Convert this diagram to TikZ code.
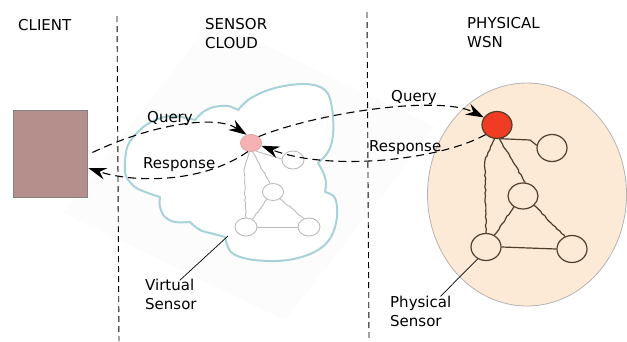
\documentclass[tikz,border=0pt]{standalone}
\usepackage{fontspec}
\setmainfont{DejaVu Sans}
\usetikzlibrary{arrows.meta,decorations.pathmorphing,shapes.geometric}

\definecolor{boxfill}{RGB}{180,143,140}
\definecolor{boxline}{RGB}{130,130,130}
\definecolor{cloudline}{RGB}{168,210,217}
\definecolor{wsnfill}{RGB}{253,234,214}
\definecolor{wsnline}{RGB}{180,180,180}
\definecolor{wire}{RGB}{77,62,42}
\definecolor{hotnode}{RGB}{240,60,36}
\definecolor{ghost}{RGB}{188,188,188}
\definecolor{ghostpink}{RGB}{246,178,178}
\definecolor{haze}{RGB}{252,252,252}

\begin{document}
\begin{tikzpicture}[x=1pt,y=-1pt,
  lbl/.style={font=\fontsize{15}{19}\selectfont, inner sep=0pt, anchor=base west},
  divider/.style={line width=0.9pt, dash pattern=on 6pt off 4pt},
  msg/.style={line width=1.1pt, dash pattern=on 8pt off 5pt,
    -{Stealth[length=18pt,width=12pt,inset=6pt]}},
  wig/.style={decorate, decoration={random steps, segment length=3pt, amplitude=0.6pt}},
  pnode/.style={ellipse, draw=wire, line width=1.2pt, fill=wsnfill,
    minimum width=30pt, minimum height=27pt, inner sep=0pt},
  pedge/.style={draw=wire, line width=1.2pt},
  gnode/.style={ellipse, draw=ghost, line width=0.9pt, fill=white,
    minimum width=22pt, minimum height=18pt, inner sep=0pt},
  gedge/.style={draw=ghost, line width=0.9pt},
  leader/.style={line width=0.7pt}]
\pgfmathsetseed{11}
\useasboundingbox (0,0) rectangle (627,341);
\fill[white] (0,0) rectangle (627,341);

% faint tilted panel behind the cloud
\fill[haze] (63,213) -- (213,20) -- (435,127) -- (285,320) -- cycle;

% sensor cloud outline, built lobe by lobe
\draw[cloudline, line width=2pt, fill=white, line join=round]
  plot[smooth, tension=0.6] coordinates {(160,197) (148,193) (135,187) (126,176) (125,162) (128,145) (138,132) (151,122) (171,116) (195,120)}
  -- plot[smooth, tension=0.6] coordinates {(195,120) (203,112) (214,107) (228,106) (238,110)}
  -- plot[smooth, tension=0.6] coordinates {(238,110) (251,98) (275,88) (305,84) (325,90) (332,108) (333,135) (328,152) (318,163)}
  -- plot[smooth, tension=0.6] coordinates {(318,163) (323,172) (326,182) (325,192)}
  -- plot[smooth, tension=0.6] coordinates {(325,192) (335,198) (337,217) (331,237) (318,250) (298,258) (275,261) (248,259) (231,252) (225,237)}
  -- plot[smooth, tension=0.6] coordinates {(225,237) (214,234) (200,230) (190,222)}
  -- plot[smooth, tension=0.6] coordinates {(190,222) (175,222) (165,217) (160,207) (160,197)}
  -- cycle;

% physical network area
\fill[wsnfill, draw=wsnline, line width=0.8pt] (527,194.5) ellipse [x radius=99.5, y radius=111.5];

% column dividers
\coordinate (d1t) at (117,16);  \coordinate (d1b) at (119,341);
\coordinate (d2t) at (367,12);  \coordinate (d2b) at (369,341);
\draw[divider] (d1t) -- (d1b);
\draw[divider] (d2t) -- (d2b);

% column headings
\node[lbl] (hc)  at (18,30)  {CLIENT};
\node[lbl] (hs1) at (205,29) {SENSOR};
\node[lbl] (hs2) at (205,48) {CLOUD};
\node[lbl] (hp1) at (467,28) {PHYSICAL};
\node[lbl] (hp2) at (467,47) {WSN};

% client
\node[draw=boxline, line width=0.8pt, fill=boxfill, minimum width=74pt, minimum height=87pt,
  inner sep=0pt] (client) at (50,153.5) {};

% virtual sensor network inside the cloud
\node[gnode, fill=ghostpink, draw=ghostpink!80!gray, minimum width=21pt, minimum height=17pt] (g0) at (251,143) {};
\node[gnode] (g1) at (293,160) {};
\node[gnode, minimum width=21pt, minimum height=17pt] (g2) at (273,192) {};
\node[gnode] (g3) at (246,227) {};
\node[gnode] (g4) at (309,227) {};
\coordinate (gk) at (244,170);
\draw[gedge] (g0.-60) -- (g1.175);
\draw[gedge, wig] (g0.-100) -- (gk) -- (g3.north);
\draw[gedge, wig] (g0.-80) -- (g2.110);
\draw[gedge, wig] (g2.-130) -- (g3.50);
\draw[gedge, wig] (g2.-45) -- (g4.120);
\draw[gedge] (g3.east) -- (g4.west);

% physical sensor network
\node[pnode, fill=hotnode] (p0) at (497,125) {};
\node[pnode] (p1) at (552,148) {};
\node[pnode, minimum height=26pt] (p2) at (523,196) {};
\node[pnode] (p3) at (486,247) {};
\node[pnode] (p4) at (572,249) {};
\coordinate (pk) at (485,160);
\coordinate (pj) at (530,140);
\draw[pedge] (p0.-75) -- (pj) -- (p1.170);
\draw[pedge, wig] (p0.-100) -- (pk) -- (p3.north);
\draw[pedge, wig] (p0.-80) -- (p2.80);
\draw[pedge, wig] (p2.-130) -- (p3.55);
\draw[pedge, wig] (p2.-40) -- (p4.120);
\draw[pedge] (p3.east) -- (p4.west);

% query and response messages
\draw[msg] ([xshift=5pt,yshift=1pt]client.east) .. controls (150,125) and (215,114) .. (g0.118);
\draw[msg] (g0.40) .. controls (320,112) and (440,95) .. (p0.150);
\draw[msg] (p0.-140) .. controls (440,160) and (330,172) .. (g0.-15);
\draw[msg] (g0.-110) .. controls (200,185) and (130,182) .. ([yshift=-14.5pt,xshift=1pt]client.east);

\node[lbl] (q1) at (147,122) {Query};
\node[lbl] (r1) at (143,168) {Response};
\node[lbl] (q2) at (391,101) {Query};
\node[lbl] (r2) at (369,151) {Response};

% sensor labels with leader lines
\node[lbl] (vs1) at (145,290) {Virtual};
\node[lbl] (vs2) at (145,309) {Sensor};
\node[lbl] (ps1) at (390,307) {Physical};
\node[lbl] (ps2) at (390,326) {Sensor};
\coordinate (vtip) at (228,236);
\draw[leader] ([xshift=10pt,yshift=-2pt]vs1.north) -- (vtip);
\draw[leader] ([xshift=-11pt,yshift=-1pt]ps1.north east) -- (p3.-125);
\end{tikzpicture}
\end{document}
